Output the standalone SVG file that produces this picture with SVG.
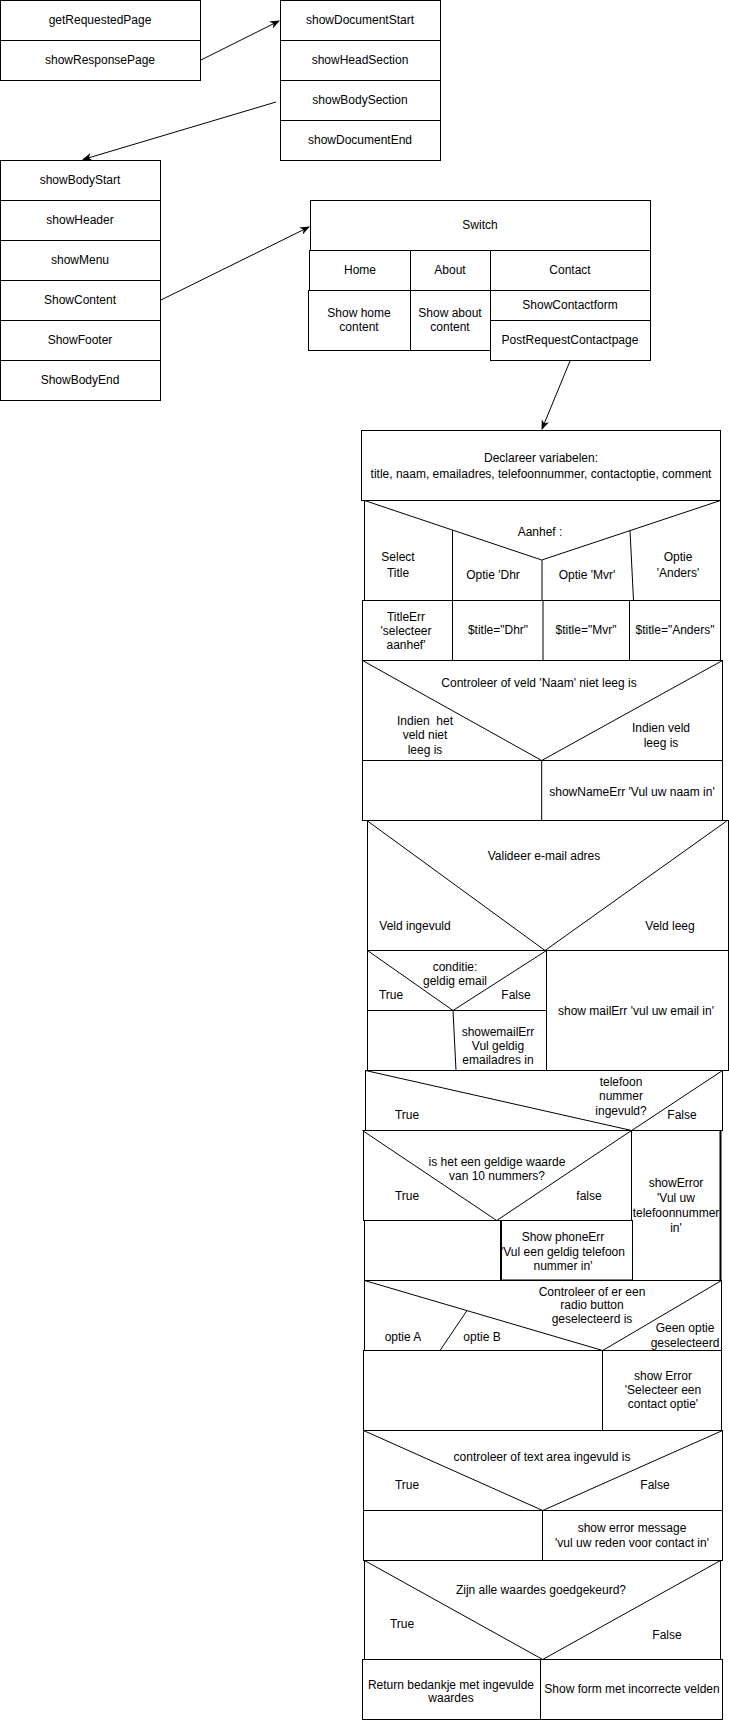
<svg xmlns="http://www.w3.org/2000/svg" width="729" height="1721" viewBox="0 0 729 1721">
<style>
rect{fill:#fff;stroke:#000;stroke-width:1}
.l{fill:none;stroke:#000;stroke-width:1}
.t{stroke-width:2}
text{font-family:"Liberation Sans",Arial,Helvetica,sans-serif;font-size:12px;fill:#000;text-anchor:middle}
.c{stroke:#000;stroke-width:1;fill:none;marker-end:url(#ah)}
</style>
<defs>
<marker id="ah" markerUnits="userSpaceOnUse" markerWidth="10" markerHeight="8" refX="9" refY="4" orient="auto">
<path d="M0,0 L10,4 L0,8 L3,4 z" fill="#000"/>
</marker>
</defs>
<rect x="0" y="0" width="729" height="1721" style="stroke:none"/>

<g id="n-page">
<rect x="0.5" y="0.5" width="200" height="40"/>
<rect x="0.5" y="40.5" width="200" height="40"/>
<text x="100" y="24">getRequestedPage</text>
<text x="100" y="64">showResponsePage</text>
</g>

<g id="n-document">
<rect x="280.5" y="0.5" width="160" height="40"/>
<rect x="280.5" y="40.5" width="160" height="40"/>
<rect x="280.5" y="80.5" width="160" height="40"/>
<rect x="280.5" y="120.5" width="160" height="40"/>
<text x="360" y="24">showDocumentStart</text>
<text x="360" y="64">showHeadSection</text>
<text x="360" y="104">showBodySection</text>
<text x="360" y="144">showDocumentEnd</text>
</g>

<g id="n-body">
<rect x="0.5" y="160.5" width="160" height="40"/>
<rect x="0.5" y="200.5" width="160" height="40"/>
<rect x="0.5" y="240.5" width="160" height="40"/>
<rect x="0.5" y="280.5" width="160" height="40"/>
<rect x="0.5" y="320.5" width="160" height="40"/>
<rect x="0.5" y="360.5" width="160" height="40"/>
<text x="80" y="184">showBodyStart</text>
<text x="80" y="224">showHeader</text>
<text x="80" y="264">showMenu</text>
<text x="80" y="304">ShowContent</text>
<text x="80" y="344">ShowFooter</text>
<text x="80" y="384">ShowBodyEnd</text>
</g>

<g id="n-switch">
<rect x="310.5" y="200.5" width="340" height="50"/>
<rect x="309.5" y="250.5" width="101" height="40"/>
<rect x="410.5" y="250.5" width="80" height="40"/>
<rect x="490.5" y="250.5" width="160" height="40"/>
<rect x="308.5" y="290.5" width="102" height="60"/>
<rect x="410.5" y="290.5" width="80" height="60"/>
<rect x="490.5" y="290.5" width="160" height="30"/>
<rect x="490.5" y="320.5" width="160" height="40"/>
<text x="480" y="229">Switch</text>
<text x="360" y="274">Home</text>
<text x="450" y="274">About</text>
<text x="570" y="274">Contact</text>
<text x="359" y="317">Show home</text>
<text x="359" y="331">content</text>
<text x="450" y="317">Show about</text>
<text x="450" y="331">content</text>
<text x="570" y="309">ShowContactform</text>
<text x="570" y="344">PostRequestContactpage</text>
</g>

<g id="n-declareer">
<rect x="361.5" y="430.5" width="359" height="70"/>
<text x="541" y="462">Declareer variabelen:</text>
<text x="541" y="478">title, naam, emailadres, telefoonnummer, contactoptie, comment</text>
</g>

<g id="n-aanhef">
<rect x="364.5" y="500.5" width="356" height="100"/>
<polyline class="l" points="364.5,500.5 541.7,560 720.5,500.5"/>
<line class="l" x1="452.5" y1="530" x2="452.5" y2="600.5"/>
<line class="l" x1="542" y1="560" x2="542" y2="600.5"/>
<line class="l" x1="630" y1="530.5" x2="633.5" y2="600.5"/>
<text x="540" y="536">Aanhef :</text>
<text x="398" y="561">Select</text>
<text x="398" y="577">Title</text>
<text x="493" y="579">Optie 'Dhr</text>
<text x="587" y="579">Optie 'Mvr'</text>
<text x="678" y="561">Optie</text>
<text x="678" y="577">'Anders'</text>
</g>

<g id="n-title">
<rect x="362.5" y="600.5" width="358" height="60"/>
<line class="l" x1="452.5" y1="600.5" x2="452.5" y2="660.5"/>
<line class="l" x1="543" y1="600.5" x2="543" y2="660.5"/>
<line class="l" x1="629.5" y1="600.5" x2="629.5" y2="660.5"/>
<text x="406" y="621">TitleErr</text>
<text x="406" y="635">'selecteer</text>
<text x="406" y="649">aanhef'</text>
<text x="498" y="634">$title="Dhr"</text>
<text x="586" y="634">$title="Mvr"</text>
<text x="675" y="634">$title="Anders"</text>
</g>

<g id="n-naam">
<rect x="362.5" y="660.5" width="360" height="160"/>
<polyline class="l" points="362.5,660.5 541.7,760.5 722.5,660.5"/>
<line class="l" x1="362.5" y1="760.5" x2="722.5" y2="760.5"/>
<line class="l" x1="541.7" y1="760.5" x2="541.7" y2="820.5"/>
<text x="539" y="687">Controleer of veld 'Naam' niet leeg is</text>
<text x="425" y="725">Indien&#160; het</text>
<text x="425" y="739">veld niet</text>
<text x="425" y="754">leeg is</text>
<text x="661" y="732">Indien veld</text>
<text x="661" y="747">leeg is</text>
<text x="632" y="796">showNameErr 'Vul uw naam in'</text>
</g>

<g id="n-email">
<rect x="367.5" y="820.5" width="361" height="130"/>
<polyline class="l" points="367.5,821 545,950.5 726.7,821"/>
<text x="544" y="860">Valideer e-mail adres</text>
<text x="415" y="930">Veld ingevuld</text>
<text x="670" y="930">Veld leeg</text>
</g>

<g id="n-conditie">
<rect x="367.5" y="950.5" width="179" height="120"/>
<polyline class="l" points="367.5,950.5 453,1010.5 546.5,950.5"/>
<line class="l" x1="367.5" y1="1010.5" x2="546.5" y2="1010.5"/>
<line class="l" x1="453" y1="1010.5" x2="456" y2="1070.5"/>
<text x="455" y="971">conditie:</text>
<text x="455" y="985">geldig email</text>
<text x="391" y="999">True</text>
<text x="516" y="999">False</text>
<text x="498" y="1036">showemailErr</text>
<text x="498" y="1050">Vul geldig</text>
<text x="498" y="1064">emailadres in</text>
</g>

<g id="n-mailerr">
<rect x="546.5" y="950.5" width="182" height="120"/>
<text x="636" y="1015">show mailErr 'vul uw email in'</text>
</g>

<g id="n-telefoon">
<rect x="365.5" y="1070.5" width="357" height="60"/>
<polyline class="l" points="365.5,1070.5 631.7,1130.5 722.5,1070.5"/>
<text x="621" y="1086">telefoon</text>
<text x="621" y="1100">nummer</text>
<text x="621" y="1115">ingevuld?</text>
<text x="407" y="1119">True</text>
<text x="682" y="1119">False</text>
</g>

<g id="n-geldig">
<rect x="363.5" y="1130.5" width="268" height="90"/>
<polyline class="l" points="362.5,1130.5 496.7,1220.5 631.5,1130.5"/>
<text x="497" y="1166">is het een geldige waarde</text>
<text x="497" y="1180">van 10 nummers?</text>
<text x="407" y="1200">True</text>
<text x="589" y="1200">false</text>
</g>

<g id="n-showerror">
<rect x="631.5" y="1130.5" width="89" height="150"/>
<line class="l t" x1="720.5" y1="1130.5" x2="720.5" y2="1281"/>
<text x="676" y="1187">showError</text>
<text x="676" y="1202">'Vul uw</text>
<text x="676" y="1217">telefoonnummer</text>
<text x="676" y="1232">in'</text>
</g>

<g id="n-phoneerr">
<rect x="364.5" y="1220.5" width="136" height="60"/>
<rect x="500.5" y="1220.5" width="132" height="60"/>
<line class="l t" x1="501" y1="1220.5" x2="501" y2="1281"/>
<line class="l t" x1="500" y1="1280.5" x2="633" y2="1280.5"/>
<text x="563" y="1241">Show phoneErr</text>
<text x="563" y="1256">'Vul een geldig telefoon</text>
<text x="563" y="1270">nummer in'</text>
</g>

<g id="n-radio">
<rect x="364.5" y="1280.5" width="357" height="70"/>
<polyline class="l" points="364.5,1280.5 602.7,1350.5 721.5,1280.5"/>
<line class="l" x1="466.7" y1="1311" x2="440" y2="1350.5"/>
<text x="592" y="1296">Controleer of er een</text>
<text x="592" y="1309">radio button</text>
<text x="592" y="1323">geselecteerd is</text>
<text x="403" y="1341">optie A</text>
<text x="482" y="1341">optie B</text>
<text x="685" y="1332">Geen optie</text>
<text x="685" y="1347">geselecteerd</text>
</g>

<g id="n-radioerr">
<rect x="363.5" y="1350.5" width="239" height="80"/>
<rect x="602.5" y="1350.5" width="119" height="80"/>
<text x="663" y="1380">show Error</text>
<text x="663" y="1394">'Selecteer een</text>
<text x="663" y="1408">contact optie'</text>
</g>

<g id="n-textarea">
<rect x="363.5" y="1430.5" width="359" height="80"/>
<polyline class="l" points="363.5,1430.5 542.7,1510.5 722.5,1430.5"/>
<rect x="363.5" y="1510.5" width="179" height="50"/>
<rect x="542.5" y="1510.5" width="180" height="50"/>
<text x="542" y="1461">controleer of text area ingevuld is</text>
<text x="407" y="1489">True</text>
<text x="655" y="1489">False</text>
<text x="632" y="1532">show error message</text>
<text x="632" y="1547">'vul uw reden voor contact in'</text>
</g>

<g id="n-zijn">
<rect x="364.5" y="1560.5" width="356" height="99"/>
<polyline class="l" points="364.5,1560.5 542.7,1659.5 720.5,1560.5"/>
<rect x="362.5" y="1659.5" width="178" height="60"/>
<rect x="540.5" y="1659.5" width="182" height="60"/>
<text x="541" y="1594">Zijn alle waardes goedgekeurd?</text>
<text x="402" y="1628">True</text>
<text x="667" y="1639">False</text>
<text x="451" y="1689">Return bedankje met ingevulde</text>
<text x="451" y="1702">waardes</text>
<text x="632" y="1693">Show form met incorrecte velden</text>
</g>

<g id="connectors">
<line class="c" x1="201" y1="60" x2="279" y2="21"/>
<line class="c" x1="276" y1="102" x2="83" y2="159.5"/>
<line class="c" x1="161" y1="300" x2="309" y2="227"/>
<line class="c" x1="570" y1="361" x2="542" y2="429"/>
</g>
</svg>
